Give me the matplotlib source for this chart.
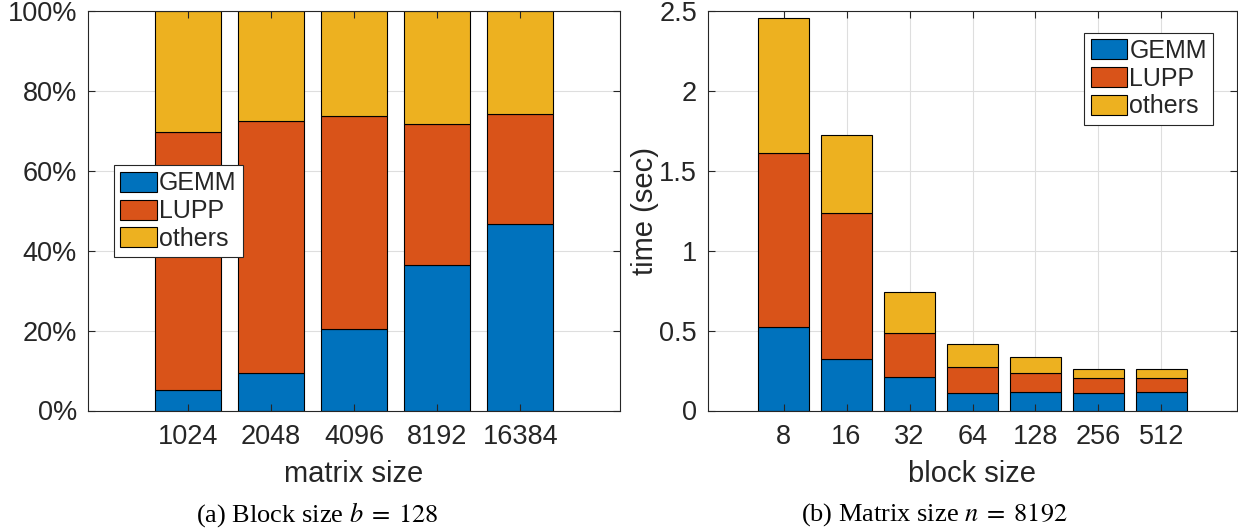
import matplotlib
matplotlib.use("Agg")
import matplotlib.pyplot as plt
import numpy as np

plt.rcParams['font.family'] = ['Liberation Sans', 'DejaVu Sans']
plt.rcParams['mathtext.fontset'] = 'stix'

# colours used for the three parts of each stacked bar
c_gemm = '#0072BD'
c_lupp = '#D95319'
c_other = '#EDB120'
ink = '#262626'
gridc = '#DEDEDE'

# (a) share of run time, block size b = 128
matrix_sizes = ['1024', '2048', '4096', '8192', '16384']
gemm_pct = [5.1, 9.5, 20.4, 36.3, 46.8]
lupp_pct = [64.5, 62.9, 53.4, 35.3, 27.5]
others_pct = [30.4, 27.6, 26.2, 28.4, 25.7]

# (b) time in seconds, matrix size n = 8192
block_sizes = ['8', '16', '32', '64', '128', '256', '512']
gemm_sec = [0.522, 0.321, 0.209, 0.108, 0.118, 0.108, 0.114]
lupp_sec = [1.087, 0.916, 0.277, 0.164, 0.116, 0.094, 0.088]
others_sec = [0.845, 0.490, 0.253, 0.145, 0.101, 0.056, 0.056]

fig = plt.figure(figsize=(12.38, 5.29), dpi=100)
ax1 = fig.add_axes([88 / 1238, 118.5 / 529, 532 / 1238, 399.5 / 529])
ax2 = fig.add_axes([708 / 1238, 118.5 / 529, 529 / 1238, 399.5 / 529])


def stacked(ax, labels, parts):
    pos = np.arange(1, len(labels) + 1)
    bottom = np.zeros(len(labels))
    for vals, col, name in parts:
        ax.bar(pos, vals, 0.8, bottom=bottom, color=col, edgecolor='black',
               linewidth=0.8, zorder=1, label=name)
        bottom = bottom + np.array(vals)
    ax.set_xticks(pos)
    ax.set_xticklabels(labels)
    ax.set_xlim(pos[0] - 1.2, pos[-1] + 1.2)
    return pos


def style(ax, yticks):
    for t in yticks:
        ax.axhline(t, color=gridc, lw=0.8, zorder=0.5)
    for t in ax.get_xticks():
        ax.axvline(t, color=gridc, lw=0.8, zorder=0.5)
    for s in ax.spines.values():
        s.set_color(ink)
        s.set_linewidth(0.8)
        s.set_zorder(3)
    ax.tick_params(direction='in', top=True, right=True, length=5, width=0.8,
                   color=ink, labelcolor=ink, labelsize=19.5)
    ax.tick_params(axis='x', pad=10)
    ax.tick_params(axis='y', pad=8)


parts1 = [(gemm_pct, c_gemm, 'GEMM'), (lupp_pct, c_lupp, 'LUPP'), (others_pct, c_other, 'others')]
stacked(ax1, matrix_sizes, parts1)
yt1 = [0, 20, 40, 60, 80, 100]
ax1.set_ylim(0, 100)
ax1.set_yticks(yt1)
ax1.set_yticklabels(['%d%%' % v for v in yt1])
style(ax1, yt1)
ax1.set_xlabel('matrix size', fontsize=21, color=ink, labelpad=7)

parts2 = [(gemm_sec, c_gemm, 'GEMM'), (lupp_sec, c_lupp, 'LUPP'), (others_sec, c_other, 'others')]
stacked(ax2, block_sizes, parts2)
yt2 = [0, 0.5, 1, 1.5, 2, 2.5]
ax2.set_ylim(0, 2.5)
ax2.set_yticks(yt2)
ax2.set_yticklabels(['0', '0.5', '1', '1.5', '2', '2.5'])
style(ax2, yt2)
ax2.set_xlabel('block size', fontsize=21, color=ink, labelpad=7)
ax2.set_ylabel('time (sec)', fontsize=21, color=ink, labelpad=0)

leg_kw = dict(fontsize=18, frameon=True, fancybox=False, framealpha=1,
              edgecolor=ink, handlelength=1.45, handleheight=0.85,
              handletextpad=0.1, labelspacing=0.15, borderpad=0.25,
              borderaxespad=0)
l1 = ax1.legend(loc='upper left', bbox_to_anchor=(0.049, 0.614), **leg_kw)
l2 = ax2.legend(loc='upper right', bbox_to_anchor=(0.955, 0.946), **leg_kw)
for lg in (l1, l2):
    lg.get_frame().set_linewidth(0.8)
    for t in lg.get_texts():
        t.set_color(ink)

# sub-figure captions
fig.text(317 / 1238, 1 - 515 / 529, r'(a) Block size $b\;=\;128$', ha='center', va='center',
         fontsize=19, family='Liberation Serif')
fig.text(934 / 1238, 1 - 515 / 529, r'(b) Matrix size $n\;=\;8192$', ha='center', va='center',
         fontsize=19, family='Liberation Serif')

fig.savefig('out.png', dpi=100)
